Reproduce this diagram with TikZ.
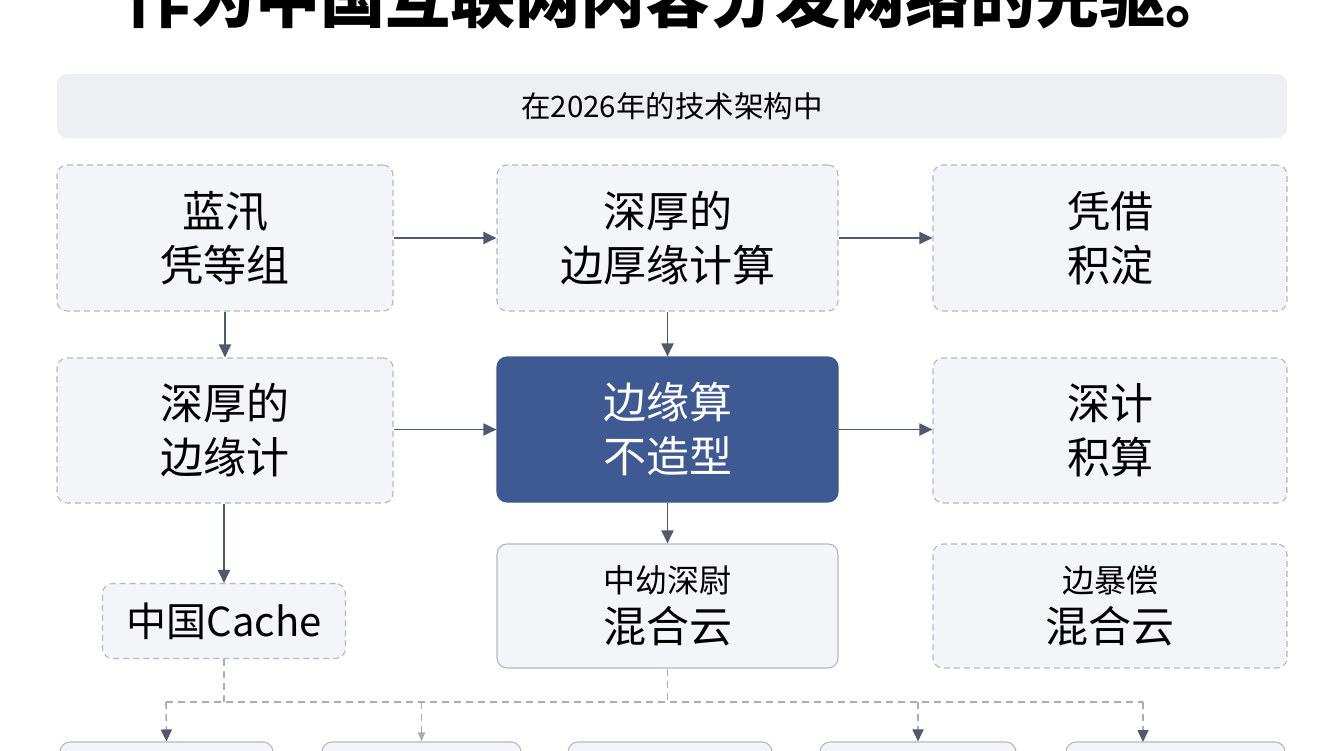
\documentclass[tikz,border=0pt]{standalone}
\usepackage{fontspec}
\setmainfont{Noto Sans CJK SC}
\usetikzlibrary{arrows.meta}
\definecolor{boxfill}{HTML}{F4F5F8}
\definecolor{boxline}{HTML}{B4B8C0}
\definecolor{arrowc}{HTML}{4F5A6E}
\definecolor{bluefill}{HTML}{3F5A93}
\definecolor{barfill}{HTML}{EEEFF3}
\definecolor{dashc}{HTML}{A8ADB6}
\tikzset{
  box/.style={draw=boxline, dashed, dash pattern=on 6pt off 4pt, line width=1.1pt, fill=boxfill, rounded corners=10pt, align=center, inner sep=0pt, font=\fontsize{43}{54}\selectfont, text=black},
  solidbox/.style={box, solid},
  bluebox/.style={box, solid, draw=bluefill, fill=bluefill, text=white},
  conn/.style={draw=arrowc, line width=1.9pt, -{Triangle[length=13pt,width=12pt]}},
  dtree/.style={draw=dashc, line width=1.6pt, dash pattern=on 7pt off 5pt},
  darrow/.style={dtree, -{Triangle[length=12pt,width=11pt,color=arrowc,fill=arrowc]}},
}
\begin{document}
\begin{tikzpicture}[x=1pt,y=-1pt]
\useasboundingbox (0,0) rectangle (1344,750);
\clip (0,0) rectangle (1344,750);
\fill[white] (0,0) rectangle (1344,750);
% title
\node[anchor=base, inner sep=0pt, font=\fontsize{65}{72}\selectfont\bfseries] (title) at (678,22) {作为中国互联网内容分发网络的先驱。};
% header bar
\node[fill=barfill, rounded corners=10pt, minimum width=1230pt, minimum height=64pt, inner sep=0pt, font=\fontsize{29.5}{32}\selectfont] (bar) at (672,106) {在2026年的技术架构中};
% row 1
\node[box, minimum width=336pt, minimum height=146pt] (a1) at (225,238) {蓝汛\\凭等组};
\node[box, minimum width=341pt, minimum height=146pt] (a2) at (667.5,238) {深厚的\\边厚缘计算};
\node[box, minimum width=354pt, minimum height=146pt] (a3) at (1110,238) {凭借\\积淀};
% row 2
\node[box, minimum width=336pt, minimum height=145pt] (b1n) at (225,430.5) {深厚的\\边缘计};
\node[bluebox, minimum width=341pt, minimum height=145pt] (core) at (667.5,429.5) {边缘算\\不造型};
\node[box, minimum width=354pt, minimum height=145pt] (b3n) at (1110,430.5) {深计\\积算};
% row 3
\node[box, minimum width=243pt, minimum height=75pt, font=\fontsize{40}{44}\selectfont] (cache) at (224,621) {中国Cache};
\node[solidbox, minimum width=341pt, minimum height=124pt, font=\fontsize{43}{50}\selectfont] (mid) at (667.5,606) {{\fontsize{32}{50}\selectfont 中幼深尉}\\混合云};
\node[box, minimum width=354pt, minimum height=124pt, font=\fontsize{43}{50}\selectfont] (rgt) at (1110,606) {{\fontsize{32}{50}\selectfont 边暴偿}\\混合云};
% row 4 (cut off)
\node[solidbox, minimum width=213pt, minimum height=80pt] (c1) at (166.5,782) {};
\node[solidbox, minimum width=199pt, minimum height=80pt] (c2) at (421.5,782) {};
\node[solidbox, minimum width=204pt, minimum height=80pt] (c3) at (670,782) {};
\node[solidbox, minimum width=196pt, minimum height=80pt] (c4) at (918,782) {};
\node[solidbox, minimum width=219pt, minimum height=80pt] (c5) at (1175.5,782) {};
% solid connectors
\draw[conn] (a1.east) -- (a2.west);
\draw[conn] (a2.east) -- (a3.west);
\draw[conn] (a1.south) -- (b1n.north);
\draw[conn] (a2.south) -- (core.north);
\draw[conn] (b1n.east |- core.west) -- (core.west);
\draw[conn] (core.east) -- (b3n.west |- core.east);
\draw[conn] (b1n.south -| cache.north) -- (cache.north);
\draw[conn] (core.south) -- (mid.north);
% dashed tree
\coordinate (hl) at (166,702);
\coordinate (hr) at (1143,702);
\coordinate (c5in) at (1143,742);
\draw[dtree] (cache.south) -- (cache.south |- hl);
\draw[dtree] (mid.south) -- (mid.south |- hl);
\draw[dtree] (hl) -- (hr);
\draw[darrow] (hl) -- (c1.north);
\draw[dtree, -{Triangle[length=9pt,width=7pt,color=dashc,fill=dashc]}] (hl -| c2.north) -- (c2.north);
\draw[darrow] (hl -| c4.north) -- (c4.north);
\draw[darrow] (hr) -- (c5in);
\end{tikzpicture}
\end{document}
